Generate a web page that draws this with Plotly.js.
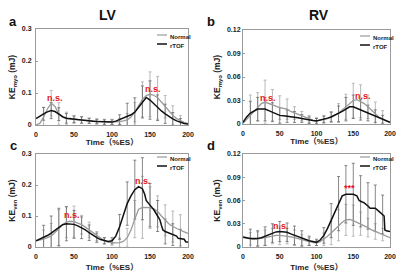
<!DOCTYPE html>
<html><head><meta charset="utf-8">
<script src="https://cdn.plot.ly/plotly-3.0.1.min.js"></script>
<style>html,body{margin:0;padding:0;background:#fff}#chart{width:400px;height:277px}</style>
</head><body><div id="chart"></div>
<script>
// Time axis (%ES)
const T = [0,5,10,15,20,25,30,35,40,45,50,55,60,65,70,75,80,85,90,95,100,105,110,115,120,125,130,135,140,145,150,155,160,165,170,175,180,185,190,195,200];
const TE = [10,20,30,40,50,60,70,80,90,100,110,120,130,140,150,160,170,180,190];
const xTickVals = [0,50,100,150,200];

// Panel a: LV KE_myo
const aNormal = [0.0,0.005,0.025,0.05,0.068,0.058,0.035,0.024,0.02,0.018,0.017,0.016,0.015,0.014,0.013,0.012,0.011,0.010,0.010,0.010,0.010,0.010,0.011,0.013,0.016,0.025,0.04,0.06,0.08,0.092,0.096,0.093,0.085,0.072,0.057,0.042,0.03,0.02,0.013,0.008,0.004];
const aRTOF = [0.02,0.028,0.035,0.041,0.045,0.042,0.034,0.026,0.021,0.019,0.018,0.017,0.016,0.014,0.013,0.012,0.011,0.010,0.009,0.009,0.009,0.012,0.017,0.024,0.028,0.032,0.04,0.055,0.072,0.086,0.078,0.066,0.054,0.044,0.035,0.026,0.019,0.013,0.008,0.005,0.003];
const aNormalSD = [0.03,0.04,0.035,0.02,0.012,0.01,0.008,0.008,0.008,0.008,0.01,0.02,0.03,0.055,0.07,0.067,0.035,0.03,0.016];
const aRTOFSD = [0.02,0.025,0.02,0.015,0.01,0.01,0.008,0.007,0.007,0.007,0.015,0.04,0.045,0.05,0.06,0.04,0.03,0.02,0.012];

// Panel b: RV KE_myo
const bNormal = [0.001,0.006,0.012,0.017,0.022,0.026,0.028,0.026,0.024,0.022,0.021,0.020,0.019,0.016,0.014,0.012,0.010,0.008,0.006,0.005,0.004,0.005,0.006,0.007,0.009,0.011,0.014,0.018,0.022,0.026,0.030,0.031,0.029,0.026,0.022,0.017,0.013,0.009,0.006,0.004,0.002];
const bRTOF = [0.002,0.009,0.014,0.017,0.019,0.019,0.019,0.017,0.015,0.013,0.011,0.0105,0.010,0.0095,0.009,0.008,0.007,0.006,0.005,0.0045,0.004,0.005,0.006,0.0075,0.009,0.011,0.013,0.016,0.019,0.022,0.022,0.020,0.018,0.016,0.014,0.012,0.010,0.008,0.006,0.004,0.002];
const bNormalSD = [0.025,0.018,0.028,0.02,0.015,0.013,0.008,0.006,0.005,0.004,0.005,0.007,0.012,0.016,0.022,0.021,0.015,0.015,0.011];
const bRTOFSD = [0.015,0.015,0.015,0.012,0.01,0.008,0.007,0.005,0.004,0.003,0.004,0.006,0.01,0.015,0.015,0.013,0.01,0.008,0.005];

// Panel c: LV KE_ven
const cNormal = [0.02,0.022,0.025,0.03,0.036,0.047,0.06,0.072,0.08,0.083,0.082,0.078,0.072,0.064,0.055,0.045,0.035,0.027,0.02,0.016,0.014,0.013,0.014,0.018,0.03,0.055,0.09,0.122,0.128,0.128,0.127,0.123,0.115,0.1,0.086,0.074,0.066,0.059,0.054,0.049,0.044];
const cT2 = [0,5,10,15,20,25,30,35,40,45,50,55,60,65,70,75,80,85,90,95,100,105,110,115,120,125,130,135,140,143,145,150,155,160,163,165,167,170,175,180,185,187,190,195,197,200];
const cRTOF = [0.02,0.025,0.03,0.037,0.045,0.055,0.065,0.072,0.075,0.075,0.073,0.068,0.062,0.055,0.046,0.037,0.03,0.024,0.02,0.018,0.02,0.035,0.065,0.1,0.14,0.165,0.185,0.195,0.188,0.17,0.15,0.135,0.12,0.1,0.088,0.07,0.055,0.05,0.045,0.04,0.035,0.028,0.027,0.025,0.017,0.015];
const cNormalSD = [0.03,0.04,0.06,0.05,0.05,0.03,0.025,0.015,0.01,0.008,0.015,0.03,0.06,0.1,0.067,0.05,0.05,0.05,0.05];
const cRTOFSD = [0.04,0.055,0.06,0.055,0.045,0.035,0.025,0.015,0.01,0.01,0.04,0.07,0.095,0.1,0.07,0.05,0.04,0.035,0.03];

// Panel d: RV KE_ven
const dNormal = [0.012,0.011,0.0105,0.010,0.0105,0.011,0.012,0.013,0.014,0.015,0.015,0.0145,0.014,0.013,0.012,0.0105,0.009,0.008,0.007,0.006,0.005,0.007,0.010,0.014,0.018,0.023,0.028,0.032,0.035,0.0355,0.034,0.032,0.030,0.027,0.025,0.022,0.020,0.018,0.016,0.014,0.012];
const dT2 = [0,5,10,15,20,25,30,35,40,45,50,55,60,65,70,75,80,85,90,95,100,105,110,115,120,125,130,135,140,145,150,155,158,160,165,170,173,175,180,185,190,192,193,195,200];
const dRTOF = [0.013,0.012,0.011,0.011,0.011,0.012,0.014,0.016,0.018,0.0195,0.02,0.0195,0.019,0.017,0.015,0.013,0.011,0.009,0.008,0.007,0.006,0.009,0.015,0.024,0.034,0.045,0.056,0.066,0.068,0.068,0.068,0.066,0.06,0.059,0.057,0.053,0.05,0.05,0.05,0.046,0.042,0.04,0.022,0.021,0.02];
const dNormalSD = [0.008,0.009,0.01,0.01,0.012,0.01,0.01,0.007,0.005,0.003,0.008,0.015,0.02,0.02,0.02,0.015,0.012,0.01,0.008];
const dRTOFSD = [0.012,0.01,0.012,0.012,0.013,0.012,0.012,0.01,0.006,0.004,0.01,0.022,0.035,0.037,0.04,0.033,0.03,0.03,0.025];

const seriesNames = ['Normal','rTOF'];
const xTitle = 'Time（%ES）';
const colNormal = '#9a9a9a', colRTOF = '#111111';
const FONT = 'Liberation Sans, Arial, Noto Sans CJK SC, sans-serif';
const W = 400, H = 277;
const PX = x => x / W, PY = y => 1 - y / H;

// Layout: domains, label positions (top-left of text boxes, in page pixels)
const panels = [
  {ax:'', letter:'a', tN:T, n:aNormal, tR:T, r:aRTOF, sdN:aNormalSD, sdR:aRTOFSD, yr:[0,0.3], dt:0.1, yt:'KE<sub>myo</sub> (mJ)',
   px:[36,188], py:[29,125], lab:[7,12], leg:[157,35], tls:2, xso:1,
   marks:[{x:11.8,y:0.106,t:'n.s.'},{x:141,y:0.134,t:'n.s.'}]},
  {ax:'2', letter:'b', tN:T, n:bNormal, tR:T, r:bRTOF, sdN:bNormalSD, sdR:bRTOFSD, yr:[0,0.12], dt:0.03, yt:'KE<sub>myo</sub> (mJ)',
   px:[243,390], py:[30,124], lab:[205,12], leg:[360,36], tls:0, xso:1,
   marks:[{x:20.4,y:0.0421,t:'n.s.'},{x:150,y:0.0447,t:'n.s.'}]},
  {ax:'3', letter:'c', tN:T, n:cNormal, tR:cT2, r:cRTOF, sdN:cNormalSD, sdR:cRTOFSD, yr:[0,0.3], dt:0.1, yt:'KE<sub>ven</sub> (mJ)',
   px:[36,188], py:[154,247], lab:[8,136], leg:[157,157], tls:2, xso:4,
   marks:[{x:34,y:0.126,t:'n.s.'},{x:127.6,y:0.235,t:'n.s.'}]},
  {ax:'4', letter:'d', tN:T, n:dNormal, tR:dT2, r:dRTOF, sdN:dNormalSD, sdR:dRTOFSD, yr:[0,0.12], dt:0.03, yt:'KE<sub>ven</sub> (mJ)',
   px:[243,390], py:[154,247], lab:[205,136], leg:[360,157], tls:0, xso:4,
   marks:[{x:38,y:0.0361,t:'n.s.'},{x:134.7,y:0.0852,t:'***'}]}
];

function at(ts, vs, x){ return vs[ts.indexOf(x)]; }

const data = [];
const layout = {
  width:W, height:H, margin:{l:0,r:0,t:0,b:0,autoexpand:false},
  paper_bgcolor:'#fff', plot_bgcolor:'#fff', showlegend:false,
  font:{family:FONT, color:'#222'},
  annotations:[], shapes:[]
};
const boldFont = (s,c)=>({size:s, weight:'bold', color:c||'#222', family:FONT});
const tl = {xanchor:'left', yanchor:'top', showarrow:false};

panels.forEach((p,i)=>{
  const xa='x'+p.ax, ya='y'+p.ax;
  // error bars
  data.push({type:'scatter', mode:'markers', xaxis:xa, yaxis:ya, x:TE, y:TE.map(x=>at(p.tN,p.n,x)),
    marker:{size:1,color:'rgba(0,0,0,0)'}, hoverinfo:'skip',
    error_y:{type:'data', array:p.sdN, visible:true, color:'#b8b8b8', thickness:1, width:1.5}});
  data.push({type:'scatter', mode:'markers', xaxis:xa, yaxis:ya, x:TE, y:TE.map(x=>at(p.tR,p.r,x)),
    marker:{size:1,color:'rgba(0,0,0,0)'}, hoverinfo:'skip',
    error_y:{type:'data', array:p.sdR, visible:true, color:'#6a6a6a', thickness:0.8, width:1.5}});
  // curves
  data.push({type:'scatter', mode:'lines', name:seriesNames[0], xaxis:xa, yaxis:ya, x:p.tN, y:p.n,
    line:{color:colNormal, width:1.3}});
  data.push({type:'scatter', mode:'lines', name:seriesNames[1], xaxis:xa, yaxis:ya, x:p.tR, y:p.r,
    line:{color:colRTOF, width:1.5}});

  layout['xaxis'+p.ax] = {domain:[PX(p.px[0]),PX(p.px[1])], anchor:ya, range:[0,200], tickvals:xTickVals,
    showgrid:false, zeroline:false, showline:true, linecolor:'#9a9a9a', linewidth:1, mirror:true, ticks:'',
    ticklabelstandoff:3, tickfont:boldFont(7), automargin:true,
    title:{text:xTitle, font:boldFont(8), standoff:p.xso}};
  layout['yaxis'+p.ax] = {domain:[PY(p.py[1]),PY(p.py[0])], anchor:xa, range:p.yr, dtick:p.dt, tick0:0,
    showgrid:false, zeroline:false, showline:true, linecolor:'#9a9a9a', linewidth:1, mirror:true,
    ticks:'inside', ticklen:2, tickcolor:'#9a9a9a', ticklabelstandoff:p.tls, tickfont:boldFont(7), automargin:true,
    title:{text:p.yt, font:boldFont(8.5), standoff:4}};

  // significance marks (top-left of label at given data position)
  p.marks.forEach(m=>layout.annotations.push(Object.assign({xref:xa, yref:ya, x:m.x, y:m.y, text:m.t,
    font:boldFont(9,'#e8141b')}, tl)));

  // legend (inside top-right): sample line + text
  [colNormal, colRTOF].forEach((c,k)=>{
    const ly = p.leg[1] + 9*k;
    layout.shapes.push({type:'line', xref:'paper', yref:'paper', x0:PX(p.leg[0]), x1:PX(p.leg[0]+10),
      y0:PY(ly), y1:PY(ly), line:{color:c, width:k?1.5:1.2}});
    layout.annotations.push(Object.assign({xref:'paper', yref:'paper', x:PX(p.leg[0]+10.5), y:PY(ly-3.4),
      text:seriesNames[k], font:boldFont(6)}, tl));
  });

  // panel letter
  layout.annotations.push(Object.assign({xref:'paper', yref:'paper', x:PX(p.lab[0]), y:PY(p.lab[1]),
    text:p.letter, font:boldFont(13,'#111')}, tl));
});

// column titles
[['LV',97,5],['RV',307,5]].forEach(a=>layout.annotations.push(Object.assign({xref:'paper',yref:'paper',
  x:PX(a[1]), y:PY(a[2]), text:a[0], font:boldFont(14,'#111')}, tl)));

Plotly.newPlot('chart', data, layout, {staticPlot:true, displayModeBar:false});
</script></body></html>
